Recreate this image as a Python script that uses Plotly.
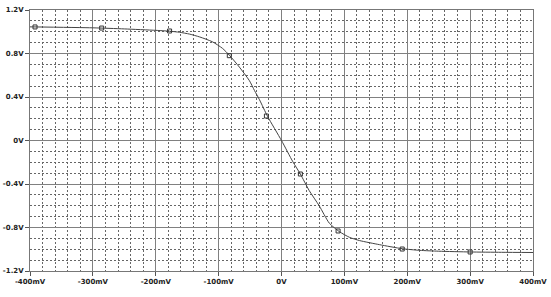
import plotly.graph_objects as go

# Curve samples (mV, V)
x_mv = [-400, -300, -250, -200, -178, -162, -146, -130, -110, -94, -83, -67, -51, -43, -35, -22,
        0, 18, 30, 44, 60, 76, 92, 108, 124, 156, 192, 220, 250, 300, 350, 400]
y_v = [1.045, 1.036, 1.026, 1.013, 1.005, 0.995, 0.978, 0.952, 0.908, 0.848, 0.785, 0.675, 0.55, 0.46,
       0.375, 0.22, 0.0, -0.195, -0.308, -0.46, -0.6, -0.76, -0.838, -0.89, -0.92, -0.958, -0.995,
       -1.01, -1.018, -1.025, -1.028, -1.03]

# Marker points
mx_mv = [-392, -286, -178, -83, -24, 30, 90, 192, 300]
my_v = [1.044, 1.034, 1.007, 0.78, 0.225, -0.308, -0.832, -0.998, -1.025]

x_ticks = [-400, -300, -200, -100, 0, 100, 200, 300, 400]
x_labels = ["-400mV", "-300mV", "-200mV", "-100mV", "0V", "100mV", "200mV", "300mV", "400mV"]
y_ticks = [1.2, 0.8, 0.4, 0.0, -0.4, -0.8, -1.2]
y_labels = ["1.2V", "0.8V", "0.4V", "0V", "-0.4V", "-0.8V", "-1.2V"]

fig = go.Figure()
fig.add_trace(go.Scatter(x=x_mv, y=y_v, mode="lines", line=dict(color="#444444", width=1, shape="spline", smoothing=0.6),
                         hoverinfo="skip", showlegend=False))
fig.add_trace(go.Scatter(x=mx_mv, y=my_v, mode="markers",
                         marker=dict(symbol="square-open", size=4, color="#333333", line=dict(width=1, color="#333333")),
                         showlegend=False))

font = dict(family="DejaVu Sans", size=7, color="#222222", weight="bold")
fig.update_xaxes(range=[-400, 400], tickvals=x_ticks, ticktext=x_labels, tickfont=font, automargin=False,
                 showgrid=True, gridcolor="#808080", gridwidth=1,
                 showline=True, linecolor="#777777", linewidth=1, mirror=True,
                 ticks="outside", ticklen=4, tickcolor="#555555", zeroline=False,
                 minor=dict(dtick=20, tick0=0, showgrid=True, gridcolor="#666666", griddash="2px,2px", gridwidth=1))
fig.update_yaxes(range=[-1.2, 1.2], tickvals=y_ticks, ticktext=y_labels, tickfont=font, automargin=False,
                 showgrid=True, gridcolor="#808080", gridwidth=1,
                 showline=True, linecolor="#777777", linewidth=1, mirror=True,
                 ticks="outside", ticklen=4, tickcolor="#555555", zeroline=False,
                 minor=dict(dtick=0.1, tick0=0, showgrid=True, gridcolor="#666666", griddash="2px,2px", gridwidth=1))
fig.update_layout(width=551, height=297, margin=dict(l=30, r=18, t=10, b=26),
                  paper_bgcolor="white", plot_bgcolor="white", font=font)
fig.write_html("out.html")
